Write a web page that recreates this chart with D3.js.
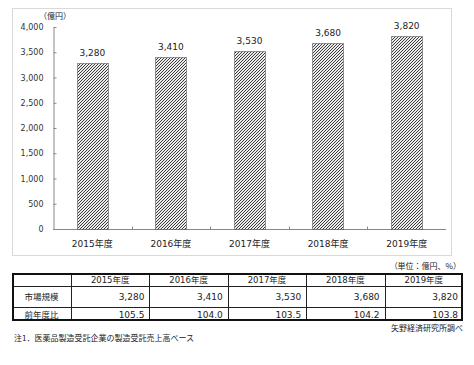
<!DOCTYPE html>
<html>
<head>
<meta charset="utf-8">
<script src="https://cdn.jsdelivr.net/npm/d3@7"></script>
<style>
  body { margin: 0; background: #fff; }
  text { fill: #222; }
</style>
</head>
<body>
<svg id="chart" width="474" height="365"></svg>
<script>
const years = ['2015年度', '2016年度', '2017年度', '2018年度', '2019年度'];
const marketSize = [3280, 3410, 3530, 3680, 3820];
const yoy = ['105.5', '104.0', '103.5', '104.2', '103.8'];
const rowLabels = ['市場規模', '前年度比'];
const yTicks = [0, 500, 1000, 1500, 2000, 2500, 3000, 3500, 4000];

const fontNum = '"DejaVu Sans", "Noto Sans CJK JP", sans-serif';
const fontJa = '"Noto Sans CJK JP", sans-serif';

const svg = d3.select('#chart');

// hatch pattern for bars, pixel-aligned "/" diagonal
const pat = svg.append('defs').append('pattern')
  .attr('id', 'hatch')
  .attr('patternUnits', 'userSpaceOnUse')
  .attr('width', 3)
  .attr('height', 3);
pat.append('rect').attr('width', 3).attr('height', 3).attr('fill', '#ebebeb');
pat.selectAll('.px')
  .data([[2, 0], [1, 1], [0, 2]])
  .join('rect')
  .attr('x', (d) => d[0]).attr('y', (d) => d[1])
  .attr('width', 1).attr('height', 1)
  .attr('fill', '#3c3c3c');

// chart frame
svg.append('rect')
  .attr('x', 12.5).attr('y', 8.5)
  .attr('width', 439).attr('height', 247)
  .attr('fill', 'none')
  .attr('stroke', '#d9d9d9');

const x = d3.scaleBand().domain(years).range([53, 446]).paddingInner(0.6).paddingOuter(0.3);
const y = d3.scaleLinear().domain([0, 4000]).range([229, 27]);

// y axis
const yAxis = svg.append('g')
  .attr('transform', 'translate(53.5,0)')
  .call(d3.axisLeft(y).tickValues(yTicks).tickSizeInner(-3).tickSizeOuter(0).tickPadding(10)
    .tickFormat(d3.format(',')));
yAxis.selectAll('text').attr('font-family', fontNum).attr('font-size', 8).style('fill', '#333');

// x axis
const xAxis = svg.append('g').attr('transform', 'translate(0,229.5)');
xAxis.append('line')
  .attr('x1', 53).attr('x2', 446)
  .attr('stroke', '#888');
xAxis.selectAll('.tk')
  .data(d3.range(1, years.length))
  .join('line')
  .attr('class', 'tk')
  .attr('x1', (d) => Math.round(x.range()[0] + d * x.step()) + 0.5)
  .attr('x2', (d) => Math.round(x.range()[0] + d * x.step()) + 0.5)
  .attr('y1', 0).attr('y2', -3)
  .attr('stroke', '#888');
xAxis.selectAll('.lbl')
  .data(years)
  .join('text')
  .attr('class', 'lbl')
  .attr('x', (d) => x(d) + x.bandwidth() / 2)
  .attr('y', 17)
  .attr('text-anchor', 'middle')
  .attr('font-family', fontNum)
  .attr('font-size', 9)
  .text((d) => d);

yAxis.select('.domain').attr('stroke', '#888');
yAxis.selectAll('.tick line').attr('stroke', '#888');

// unit
svg.append('text')
  .attr('x', 55).attr('y', 19)
  .attr('text-anchor', 'middle')
  .attr('font-family', fontJa)
  .attr('font-size', 8)
  .text('（億円）');

// bars
svg.append('g').selectAll('rect')
  .data(marketSize)
  .join('rect')
  .attr('x', (d, i) => Math.round(x(years[i])) + 0.5)
  .attr('y', (d) => Math.round(y(d)) + 0.5)
  .attr('width', Math.round(x.bandwidth()))
  .attr('height', (d) => Math.round(y(0)) - Math.round(y(d)))
  .attr('fill', 'url(#hatch)')
  .attr('stroke', '#444')
  .attr('stroke-dasharray', '1,1')
  .attr('stroke-width', 1);

svg.append('g').selectAll('text')
  .data(marketSize)
  .join('text')
  .attr('x', (d, i) => x(years[i]) + x.bandwidth() / 2)
  .attr('y', (d) => y(d) - 7)
  .attr('text-anchor', 'middle')
  .attr('font-family', fontNum)
  .attr('font-size', 9)
  .text((d) => d3.format(',')(d));

// table
const colX = [12, 71].concat(d3.range(1, years.length + 1).map((i) => 71 + i * 78.4));
const rowY = [273, 286, 307, 321];

svg.append('text')
  .attr('x', 461).attr('y', 269)
  .attr('text-anchor', 'end')
  .attr('font-family', fontJa)
  .attr('font-size', 8)
  .text('（単位：億円、%）');

const tbl = svg.append('g');
// inner lines
tbl.selectAll('.vl')
  .data(colX.slice(1, -1))
  .join('line')
  .attr('x1', (d) => Math.round(d) + 0.5).attr('x2', (d) => Math.round(d) + 0.5)
  .attr('y1', rowY[0]).attr('y2', rowY[3])
  .attr('stroke', '#222');
tbl.selectAll('.hl')
  .data(rowY.slice(1, -1))
  .join('line')
  .attr('x1', colX[0]).attr('x2', colX[colX.length - 1])
  .attr('y1', (d) => d + 0.5).attr('y2', (d) => d + 0.5)
  .attr('stroke', '#222');
tbl.append('rect')
  .attr('x', colX[0] + 1).attr('y', rowY[0] + 1)
  .attr('width', colX[colX.length - 1] - colX[0] - 2)
  .attr('height', rowY[3] - rowY[0] - 2)
  .attr('fill', 'none')
  .attr('stroke', '#111')
  .attr('stroke-width', 2);

tbl.selectAll('.hd')
  .data(years)
  .join('text')
  .attr('x', (d, i) => (colX[i + 1] + colX[i + 2]) / 2)
  .attr('y', (rowY[0] + rowY[1]) / 2 + 3.5)
  .attr('text-anchor', 'middle')
  .attr('font-family', fontNum)
  .attr('font-size', 8.5)
  .text((d) => d);

tbl.selectAll('.rl')
  .data(rowLabels)
  .join('text')
  .attr('x', (colX[0] + colX[1]) / 2)
  .attr('y', (d, i) => (rowY[i + 1] + rowY[i + 2]) / 2 + 3.5)
  .attr('text-anchor', 'middle')
  .attr('font-family', fontJa)
  .attr('font-size', 8.5)
  .text((d) => d);

const rows = [marketSize.map((d) => d3.format(',')(d)), yoy];
rows.forEach((row, r) => {
  tbl.selectAll(`.v${r}`)
    .data(row)
    .join('text')
    .attr('x', (d, i) => colX[i + 2] - 5)
    .attr('y', (rowY[r + 1] + rowY[r + 2]) / 2 + 3.5)
    .attr('text-anchor', 'end')
    .attr('font-family', fontNum)
    .attr('font-size', 9)
    .text((d) => d);
});

svg.append('text')
  .attr('x', 463).attr('y', 331)
  .attr('text-anchor', 'end')
  .attr('font-family', fontJa)
  .attr('font-size', 8)
  .text('矢野経済研究所調べ');

svg.append('text')
  .attr('x', 14).attr('y', 341)
  .attr('font-family', fontJa)
  .attr('font-size', 8)
  .text('注1．医薬品製造受託企業の製造受託売上高ベース');
</script>
</body>
</html>
